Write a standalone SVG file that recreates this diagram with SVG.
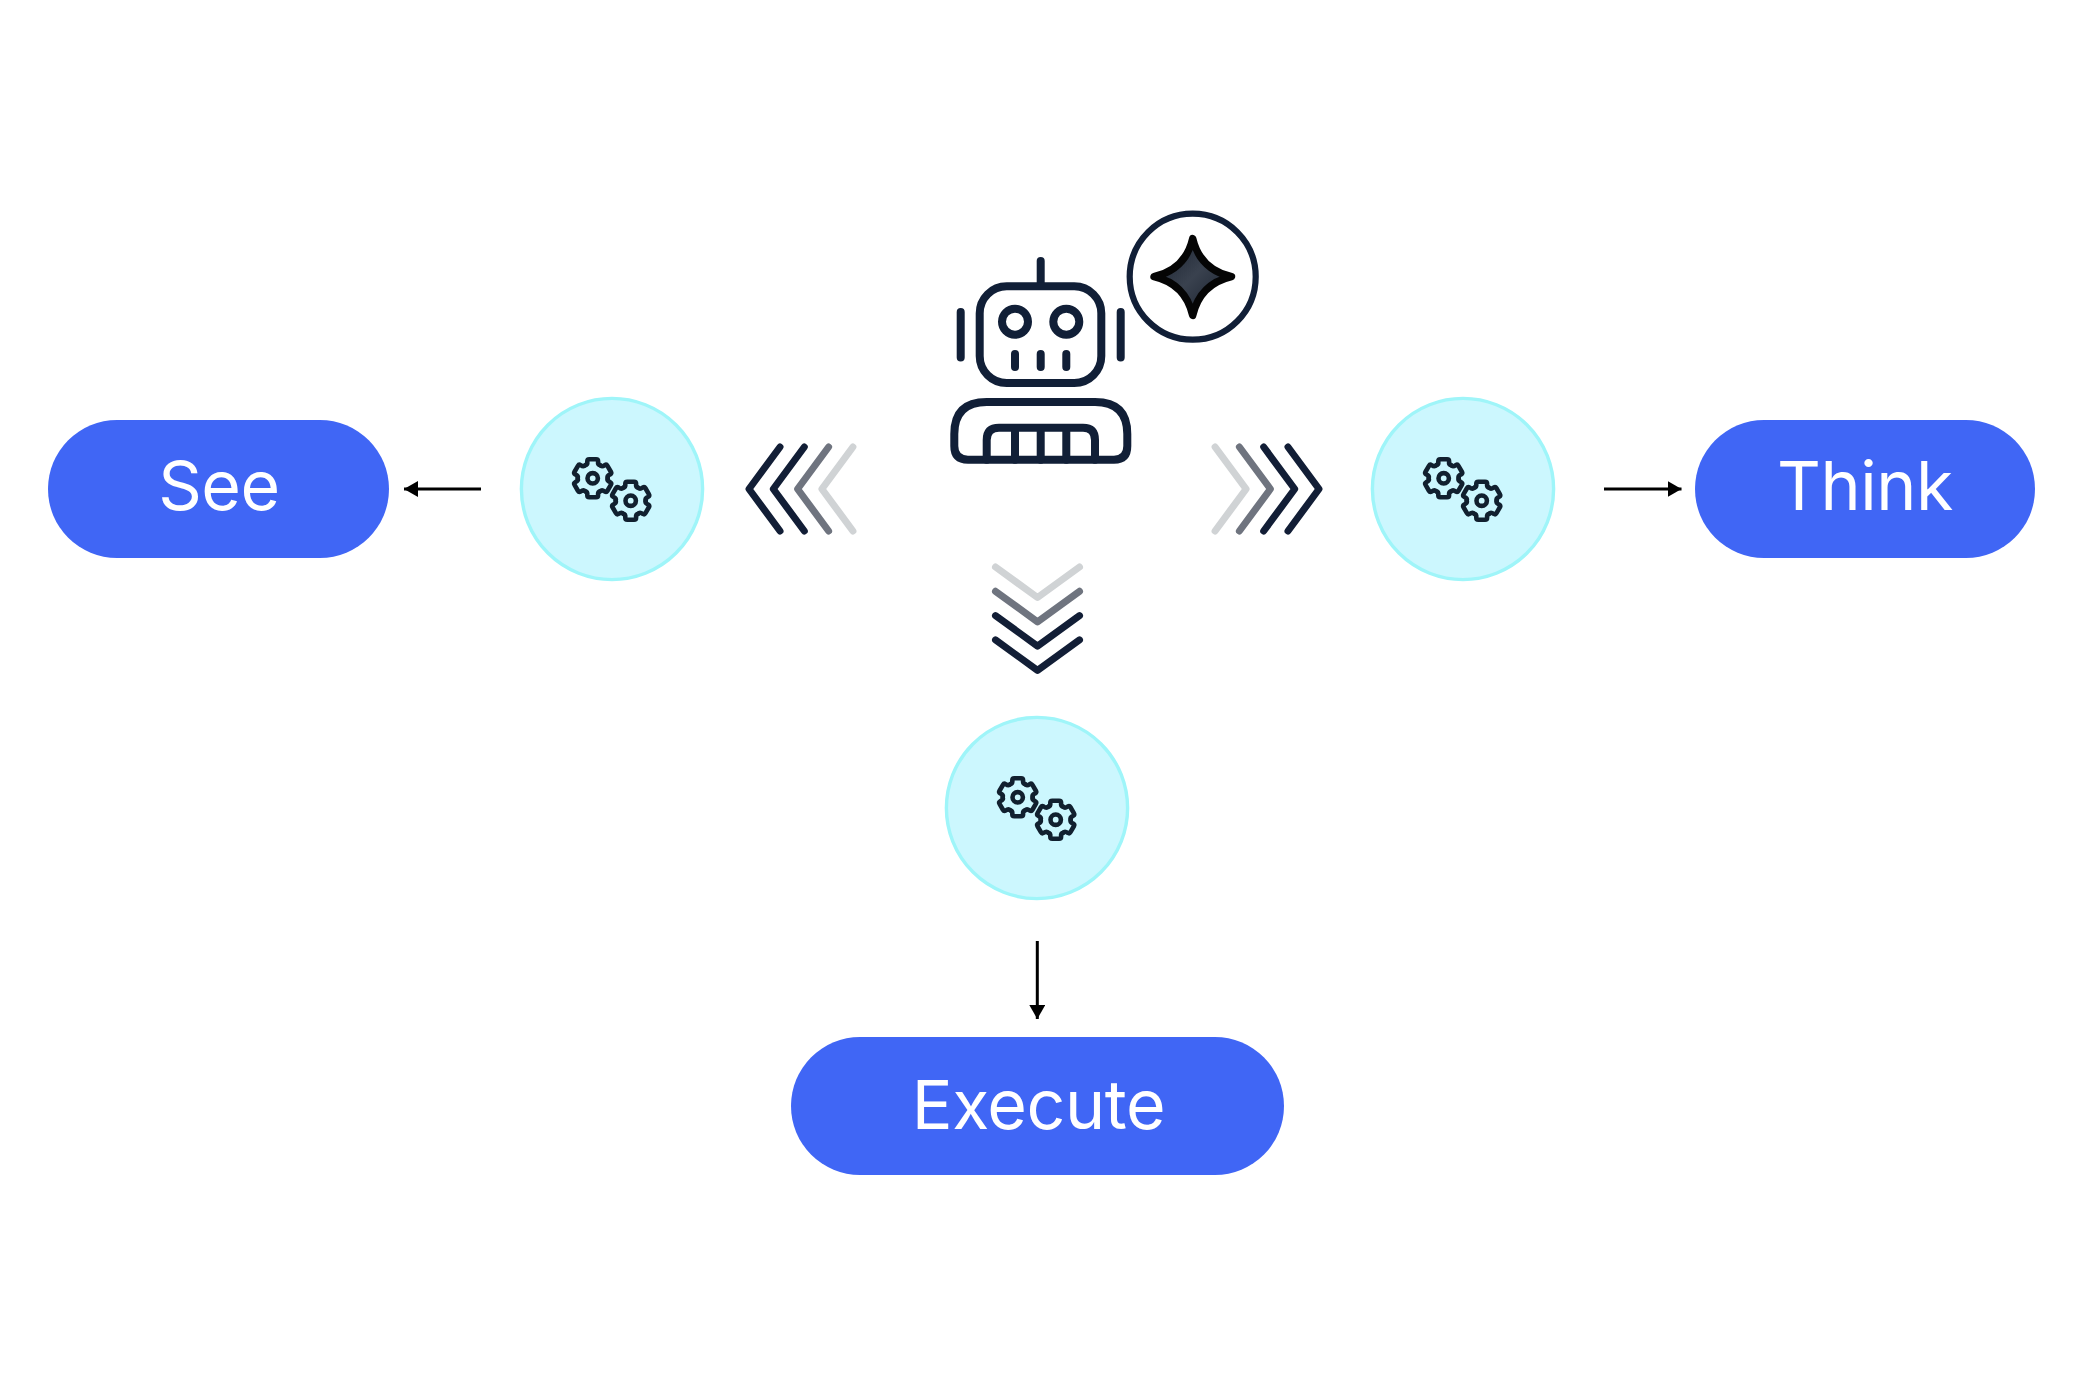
<svg xmlns="http://www.w3.org/2000/svg" xmlns:xlink="http://www.w3.org/1999/xlink" width="2084" height="1390" viewBox="0 0 2084 1390">
<style>
.pill{fill:#4066f5}
.label{font-family:Inter,"Liberation Sans",sans-serif;font-size:68px;font-weight:400;fill:#fff;text-anchor:middle;letter-spacing:-.4px}
.disc{fill:#ccf7fe;stroke:#9ff5f9;stroke-width:3.4}
.gear{fill:none;stroke:#11202f;stroke-width:4.6;stroke-linecap:round;stroke-linejoin:round}
.ink{fill:none;stroke:#111f37;stroke-width:8;stroke-linecap:round;stroke-linejoin:round}
.chev{fill:none;stroke-width:7;stroke-linecap:round;stroke-linejoin:round}
.c1{stroke:#121e36}.c2{stroke:#6f747f}.c3{stroke:#d0d3d5}
.arrow{fill:none;stroke:#000;stroke-width:3}
</style>
<defs>
<linearGradient id="starFill" x1="0" y1="0" x2="1" y2="1"><stop offset="0" stop-color="#141c29"/><stop offset=".5" stop-color="#3a424f"/><stop offset="1" stop-color="#141c29"/></linearGradient>
<marker id="head" markerUnits="userSpaceOnUse" markerWidth="14" markerHeight="16" refX="14" refY="8" orient="auto"><path d="M0,0L14,8L0,16Z" fill="#000"/></marker>
<path id="tooth" d="M-7.5,-13Q-5,-13.5-5.4,-17Q-5.4,-19-3.4,-19H3.4Q5.4,-19 5.4,-17Q5,-13.5 7.5,-13"/>
<g id="gear1" class="gear">
<use href="#tooth"/><use href="#tooth" transform="rotate(60)"/><use href="#tooth" transform="rotate(120)"/><use href="#tooth" transform="rotate(180)"/><use href="#tooth" transform="rotate(240)"/><use href="#tooth" transform="rotate(300)"/>
<circle r="5.2"/>
</g>
<g id="gears">
<circle class="disc" r="90.6"/>
<use href="#gear1" x="-19.3" y="-10.7"/>
<use href="#gear1" x="18.7" y="11.7"/>
</g>
<path id="chevL" class="chev" d="M31,-42L0,0L31,42"/>
</defs>

<g id="connectors">
<path class="arrow" d="M481,489H404" marker-end="url(#head)"/>
<path class="arrow" d="M1604,489H1681.5" marker-end="url(#head)"/>
<path class="arrow" d="M1037.3,941V1019" marker-end="url(#head)"/>
<g id="chevrons-left">
<use href="#chevL" class="c1" x="749" y="489"/>
<use href="#chevL" class="c1" x="773.3" y="489"/>
<use href="#chevL" class="c2" x="797.6" y="489"/>
<use href="#chevL" class="c3" x="821.9" y="489"/>
</g>
<g id="chevrons-right" transform="matrix(-1 0 0 1 2068 0)">
<use href="#chevL" class="c1" x="749" y="489"/>
<use href="#chevL" class="c1" x="773.3" y="489"/>
<use href="#chevL" class="c2" x="797.6" y="489"/>
<use href="#chevL" class="c3" x="821.9" y="489"/>
</g>
<g id="chevrons-down" class="chev">
<path class="c3" d="M995.5,567L1037.5,597.5L1079.5,567"/>
<path class="c2" d="M995.5,591.3L1037.5,621.8L1079.5,591.3"/>
<path class="c1" d="M995.5,615.6L1037.5,646.1L1079.5,615.6"/>
<path class="c1" d="M995.5,639.9L1037.5,670.4L1079.5,639.9"/>
</g>
</g>

<g id="node-see"><rect class="pill" x="48" y="420" width="341" height="138" rx="69"/><text class="label" x="219" y="510">See</text></g>
<g id="node-think"><rect class="pill" x="1695" y="420" width="340" height="138" rx="69"/><text class="label" x="1865" y="510">Think</text></g>
<g id="node-execute"><rect class="pill" x="791" y="1037" width="493" height="138" rx="69"/><text class="label" x="1038.5" y="1129">Execute</text></g>

<g id="node-process-left"><use href="#gears" x="612" y="489"/></g>
<g id="node-process-right"><use href="#gears" x="1463" y="489"/></g>
<g id="node-process-down"><use href="#gears" x="1037" y="808"/></g>

<g id="node-robot" class="ink">
<path d="M1040.7,261V286"/>
<rect x="979.7" y="286.3" width="121.6" height="96.7" rx="27"/>
<path d="M960.7,312V357.5M1120.7,312V357.5"/>
<circle cx="1015" cy="321.7" r="13"/><circle cx="1066.3" cy="321.7" r="13"/>
<path d="M1015,354V367M1040.7,354V367M1066.3,354V367"/>
<path d="M968,459.7H1114Q1127.3,459.7 1127.3,446V434Q1127.3,402 1095,402H986.7Q954.3,402 954.3,434V446Q954.3,459.7 968,459.7Z"/>
<path d="M986.7,459.7V440Q986.7,427.7 999,427.7H1083Q1095,427.7 1095,440V459.7M1015,427.7V459.7M1040.7,427.7V459.7M1066.3,427.7V459.7"/>
</g>
<g id="node-badge">
<circle cx="1192.7" cy="276.7" r="63" fill="#fff" stroke="#111f37" stroke-width="6.2"/>
<path d="M1192.7,238.5Q1200,269.5 1231.5,276.7Q1200,284 1192.7,315.5Q1185.5,284 1154,276.7Q1185.5,269.5 1192.7,238.5Z" fill="url(#starFill)" stroke="#050505" stroke-width="7.4" stroke-linejoin="round"/>
</g>
</svg>
